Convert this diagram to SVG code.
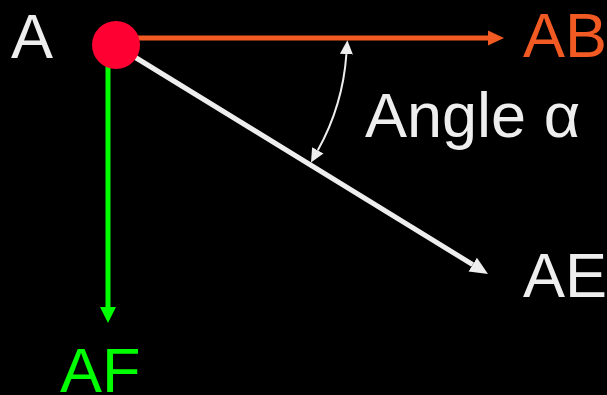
<svg xmlns="http://www.w3.org/2000/svg" width="607" height="395" viewBox="0 0 607 395">
<style>
text{font-family:"Liberation Sans",Arial,sans-serif;font-size:63px}
.w{fill:#EEEEEE}
</style>
<defs>
<marker id="hO" markerUnits="userSpaceOnUse" viewBox="0 -8 17 16" refX="0" refY="0" markerWidth="17" markerHeight="16" orient="auto"><path d="M0,-7.5 L16,0 L0,7.5 z" fill="#F15A22"/></marker>
<marker id="hG" markerUnits="userSpaceOnUse" viewBox="0 -9 17 18" refX="0" refY="0" markerWidth="17" markerHeight="18" orient="auto"><path d="M0,-8 L16,0 L0,8 z" fill="#00FF00"/></marker>
<marker id="hW" markerUnits="userSpaceOnUse" viewBox="0 -9 19 18" refX="0" refY="0" markerWidth="19" markerHeight="18" orient="auto"><path d="M0,-8 L18,0 L0,8 z" fill="#EEEEEE"/></marker>
<marker id="hC" markerUnits="userSpaceOnUse" viewBox="0 -7 15 14" refX="0" refY="0" markerWidth="15" markerHeight="14" orient="auto-start-reverse"><path d="M0,-6.5 L14,0 L0,6.5 z" fill="#EEEEEE"/></marker>
</defs>
<rect width="607" height="395" fill="#000"/>
<g id="connectors" fill="none">
<line x1="116" y1="38" x2="488" y2="38" stroke="#F15A22" stroke-width="5" marker-end="url(#hO)"/>
<line x1="108" y1="45" x2="108" y2="307" stroke="#00FF00" stroke-width="5" marker-end="url(#hG)"/>
<line x1="120" y1="48" x2="472.7" y2="264.6" stroke="#EEEEEE" stroke-width="5" marker-end="url(#hW)"/>
<path d="M346.4,54.1 A231,231 0 0 1 317.8,150.3" stroke="#EEEEEE" stroke-width="2" marker-start="url(#hC)" marker-end="url(#hC)"/>
</g>
<g id="node-A">
<circle cx="116" cy="45" r="24" fill="#FF0033"/>
<text x="11" y="58" class="w">A</text>
</g>
<g id="node-AB"><text x="523" y="57" fill="#F15A22">AB</text></g>
<g id="node-AE"><text x="523" y="297" class="w">AE</text></g>
<g id="node-AF"><text x="60" y="392" fill="#00FF00">AF</text></g>
<g id="label-angle"><text x="365" y="137" class="w">Angle α</text></g>
</svg>
